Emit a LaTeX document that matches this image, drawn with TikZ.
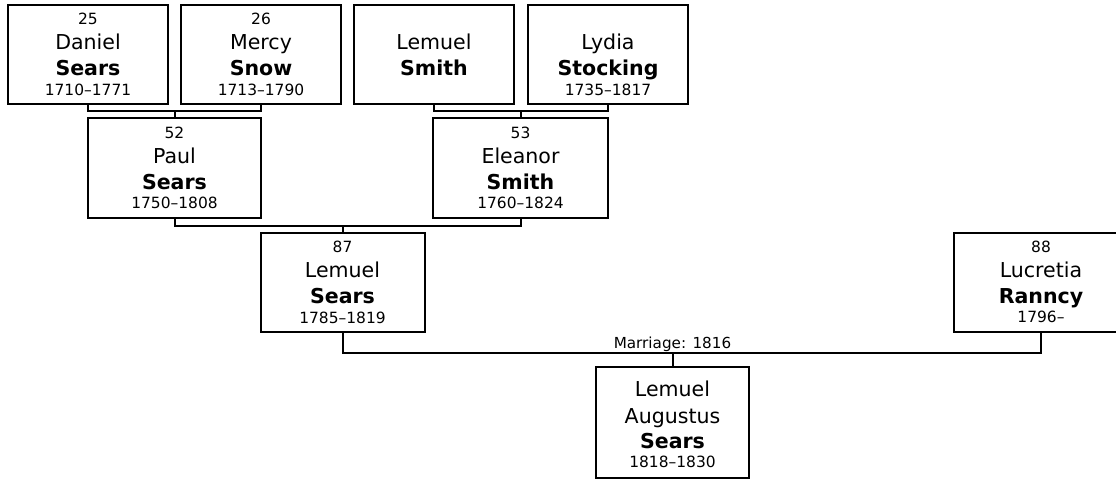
\documentclass[tikz,border=0pt]{standalone}
\usepackage{fontspec}
\setmainfont{DejaVu Sans}
\newcommand{\sm}[1]{{\fontsize{11.6}{14}\selectfont #1}}
\tikzset{
  person/.style={draw=black, line width=1.5pt, fill=white, inner sep=0pt,
    align=center, font=\fontsize{15.4}{19.5}\selectfont},
  link/.style={draw=black, line width=1.5pt},
  marr/.style={font=\fontsize{11.4}{13}\selectfont, inner sep=0pt, anchor=base}
}
\begin{document}
\begin{tikzpicture}[x=0.75pt, y=-0.75pt]
\useasboundingbox (0,0) rectangle (1116,479);
\fill[white] (0,0) rectangle (1116,479);
\clip (0,0) rectangle (1116,479);

% generation 1
\node[person, minimum width=120pt, minimum height=73.9pt] (b25) at (88,54.25)
  {\sm{25}\\[-0.75pt]Daniel\\\textbf{Sears}\\[-4.95pt]\sm{1710–1771}};
\node[person, minimum width=120pt, minimum height=73.9pt] (b26) at (261,54.25)
  {\sm{26}\\[-0.75pt]Mercy\\\textbf{Snow}\\[-4.95pt]\sm{1713–1790}};
\node[person, minimum width=120pt, minimum height=73.9pt] (bls) at (434,54.25)
  {\sm{\phantom{0}}\\[-0.75pt]Lemuel\\\textbf{Smith}\\[-4.95pt]\sm{\phantom{0}}};
\node[person, minimum width=120pt, minimum height=73.9pt] (bly) at (608,54.25)
  {\sm{\phantom{0}}\\[-0.75pt]Lydia\\\textbf{Stocking}\\[-4.95pt]\sm{1735–1817}};

% generation 2
\node[person, minimum width=129.75pt, minimum height=75pt] (b52) at (174.5,168)
  {\sm{52}\\[-0.75pt]Paul\\\textbf{Sears}\\[-4.95pt]\sm{1750–1808}};
\node[person, minimum width=131.25pt, minimum height=75pt] (b53) at (520.5,168)
  {\sm{53}\\[-0.75pt]Eleanor\\\textbf{Smith}\\[-4.95pt]\sm{1760–1824}};

% generation 3
\node[person, minimum width=123pt, minimum height=74.25pt] (b87) at (342.5,282.2)
  {\sm{87}\\[-0.75pt]Lemuel\\\textbf{Sears}\\[-4.95pt]\sm{1785–1819}};
\node[person, minimum width=130.5pt, minimum height=74.25pt] (b88) at (1041,282.1)
  {\sm{88}\\[-0.75pt]Lucretia\\\textbf{Ranncy}\\[-4.95pt]\sm{1796–}};

% child
\node[person, minimum width=114.75pt, minimum height=83pt] (bch) at (672.5,422.3)
  {\rule{0pt}{14.2pt}Lemuel\\[0.5pt]Augustus\\[-0.75pt]\textbf{Sears}\\[-5.25pt]\sm{1818–1830}};

% junctions
\coordinate (j1) at (174.5,110.7);
\coordinate (j2) at (520.5,110.7);
\coordinate (j3) at (342.5,225.7);
\coordinate (jm) at (672.5,352.7);

% connectors
\draw[link] (b25.south) |- (j1) -| (b26.south);
\draw[link] (j1) -- (b52.north);
\draw[link] (bls.south) |- (j2) -| (bly.south);
\draw[link] (j2) -- (b53.north);
\draw[link] (b52.south) |- (j3) -| (b53.south);
\draw[link] (j3) -- (b87.north);
\draw[link] (b87.south) |- (jm) -| (b88.south);
\draw[link] (jm) -- (bch.north);

\node[marr] (ml) at (672.5,348.3) {Marriage: 1816};
\end{tikzpicture}
\end{document}
